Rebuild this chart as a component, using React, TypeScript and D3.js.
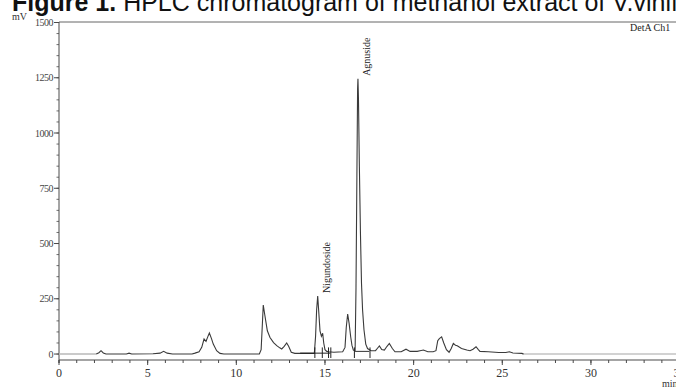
import React from "react";
import * as d3 from "d3";

const W = 676;
const H = 390;

// Retention time (min) and detector signal (mV)
const retentionTimes = [
  0, 2.1, 2.25, 2.37, 2.5, 2.65, 3.8, 3.95, 4.1, 5.3, 5.7, 5.9, 6.1, 6.4, 7.5, 7.67, 7.9, 8.05,
  8.18, 8.29, 8.4, 8.48, 8.6, 8.7, 8.89, 9.08, 9.3, 11.3, 11.4, 11.46, 11.52, 11.6, 11.75, 11.9,
  12.1, 12.28, 12.45, 12.56, 12.7, 12.84, 12.95, 13.1, 13.3, 14.4, 14.47, 14.53, 14.59, 14.65,
  14.72, 14.8, 14.87, 14.93, 15.0, 15.1, 15.2, 15.5, 16.0, 16.13, 16.2, 16.28, 16.36, 16.45,
  16.52, 16.6, 16.7, 16.75, 16.8, 16.84, 16.86, 16.89, 16.94, 17.0, 17.06, 17.12, 17.2, 17.3,
  17.4, 17.6, 17.85, 17.95, 18.07, 18.2, 18.35, 18.5, 18.63, 18.8, 18.95, 19.3, 19.57, 19.8,
  20.2, 20.36, 20.55, 20.8, 21.1, 21.26, 21.36, 21.45, 21.58, 21.7, 21.85, 22.0, 22.12, 22.24,
  22.36, 22.46, 22.7, 23.0, 23.18, 23.35, 23.52, 23.65, 23.74, 24.2, 24.8, 25.2, 25.4, 25.6,
  26.1, 26.2, 35,
];
const signalMV = [
  0, 0, 6, 15, 5, 0, 0, 4, 0, 1, 4, 12, 4, 0, 0, 4, 10, 30,
  68, 57, 80, 95, 70, 45, 15, 3, 0, 0, 20, 120, 222, 180, 105, 75,
  52, 38, 28, 23, 35, 50, 35, 8, 3, 3, 80, 200, 262, 190,
  105, 80, 94, 50, 20, 12, 10, 8, 10, 30, 120, 181, 140, 78,
  40, 18, 15, 300, 800, 1200, 1245, 1150, 850, 550, 320, 200, 110, 45,
  25, 15, 15, 25, 37, 20, 18, 35, 48, 25, 10, 10, 22, 12,
  12, 15, 18, 10, 10, 15, 60, 70, 78, 50, 20, 8, 25, 48,
  40, 37, 25, 18, 15, 22, 33, 20, 12, 10, 7, 7, 10, 5,
  3, 0, 0,
];

const xTicks = [0, 5, 10, 15, 20, 25, 30, 35];
const yTicks = [0, 250, 500, 750, 1000, 1250, 1500];

const peakLabels = ["Nigundoside", "Agnuside"];
const peakTimes = [14.59, 16.86];
const peakValues = [262, 1245];

// integration marks drawn by the data system
const markerTimes = [14.43, 14.85, 15.2, 15.33, 16.66, 17.54];

const titleBold = "Figure 1.";
const titleRest = " HPLC chromatogram of methanol extract of V.vinifera";

export default function App() {
  const x = d3.scaleLinear().domain([0, 35]).range([59, 679.6]);
  const y = d3.scaleLinear().domain([-27, 1500]).range([360, 22.5]);

  const pts: [number, number][] = retentionTimes.map((t, i) => [t, signalMV[i]]);
  const line = d3
    .line<[number, number]>()
    .x((d) => x(d[0]))
    .y((d) => y(d[1]));

  const lightLeft = pts.filter((d) => d[0] <= 2.1);
  const lightRight = pts.filter((d) => d[0] >= 26.1);
  const dark = pts.filter((d) => d[0] >= 2.1 && d[0] <= 26.2);

  const minorX = d3.range(0, 36, 1);
  const minorY = d3.range(0, 1501, 50);

  const axisColor = "#4a4a4a";
  const serif = "'Liberation Serif', 'DejaVu Serif', serif";

  return (
    <svg
      width={W}
      height={H}
      style={{ position: "absolute", left: 0, top: 0, background: "#fff" }}
    >
      {/* title (cut off at the top) */}
      <text x={12} y={11} fontFamily="'Liberation Sans', Arial, sans-serif" fontSize={25} fill="#111">
        <tspan fontWeight="bold">{titleBold}</tspan>
        <tspan>{titleRest}</tspan>
      </text>

      {/* frame top line */}
      <line x1={59} x2={W} y1={22} y2={22} stroke="#666" strokeWidth={1} />

      {/* y axis */}
      <line x1={59} x2={59} y1={22} y2={363} stroke={axisColor} strokeWidth={1} />
      {minorY.map((v) => (
        <line key={"my" + v} x1={56.5} x2={59} y1={y(v)} y2={y(v)} stroke={axisColor} strokeWidth={0.8} />
      ))}
      {yTicks.map((v) => (
        <g key={"y" + v}>
          <line x1={54} x2={59} y1={y(v)} y2={y(v)} stroke={axisColor} strokeWidth={1} />
          <text
            x={53}
            y={y(v)}
            dy="0.35em"
            textAnchor="end"
            fontFamily={serif}
            fontSize={10}
            letterSpacing={-0.5}
            fill="#444"
          >
            {v}
          </text>
        </g>
      ))}
      <text x={12} y={20} fontFamily={serif} fontSize={10} fill="#333">
        mV
      </text>

      {/* x axis */}
      <line x1={59} x2={W} y1={360} y2={360} stroke={axisColor} strokeWidth={1} />
      {minorX.map((t) => (
        <line key={"mx" + t} x1={x(t)} x2={x(t)} y1={360} y2={363} stroke={axisColor} strokeWidth={1} />
      ))}
      {xTicks.map((t) => (
        <g key={"x" + t}>
          <line x1={x(t)} x2={x(t)} y1={360} y2={365} stroke={axisColor} strokeWidth={1} />
          <text x={x(t)} y={377} textAnchor="middle" fontFamily={serif} fontSize={12} fill="#333">
            {t}
          </text>
        </g>
      ))}
      <text x={662} y={387} fontFamily={serif} fontSize={10} fill="#333">
        min
      </text>

      <text x={630} y={31} fontFamily={serif} fontSize={10} fill="#222">
        DetA Ch1
      </text>

      {/* chromatogram */}
      <path d={line(lightLeft) || ""} fill="none" stroke="#b8b8b8" strokeWidth={1.5} />
      <path d={line(lightRight) || ""} fill="none" stroke="#c4c4c4" strokeWidth={1.5} />
      <path d={line(dark) || ""} fill="none" stroke="#3a3a3a" strokeWidth={1.1} />
      <line x1={x(13.6)} x2={x(15.3)} y1={y(4)} y2={y(4)} stroke="#222" strokeWidth={1} />
      <line x1={x(16.7)} x2={x(17.5)} y1={y(12)} y2={y(12)} stroke="#333" strokeWidth={1} />

      {markerTimes.map((t) => (
        <line key={"mk" + t} x1={x(t)} x2={x(t)} y1={y(30)} y2={y(-18)} stroke="#222" strokeWidth={1} />
      ))}

      {/* peak labels */}
      {peakLabels.map((lab, i) => {
        const px = x(peakTimes[i]) + 12.5;
        const py = y(peakValues[i]) - 3;
        return (
          <text
            key={lab}
            transform={`translate(${px},${py}) rotate(-90)`}
            fontFamily={serif}
            fontSize={10}
            fill="#222"
          >
            {lab}
          </text>
        );
      })}
    </svg>
  );
}
